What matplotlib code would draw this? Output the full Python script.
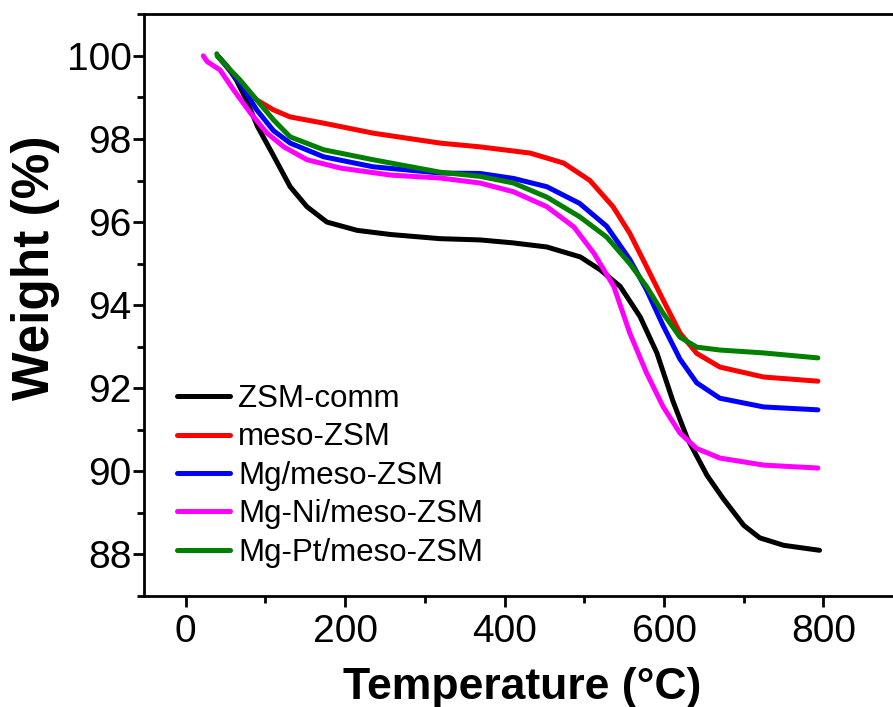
import matplotlib
matplotlib.use("Agg")
import matplotlib.pyplot as plt
from matplotlib.ticker import MultipleLocator

plt.rcParams['font.family'] = ['Liberation Sans', 'DejaVu Sans']

# ZSM-comm
t_comm = [40, 52, 64, 77, 90, 110, 131, 152, 177, 215, 257, 319, 369, 410, 453, 495, 520, 545,
          570, 591, 611, 629, 654, 674, 700, 720, 750, 795]
w_comm = [100.0, 99.75, 99.4, 98.9, 98.3, 97.6, 96.85, 96.37, 96.0, 95.8, 95.7, 95.6, 95.57, 95.5,
          95.4, 95.16, 94.85, 94.45, 93.72, 92.85, 91.7, 90.8, 89.9, 89.35, 88.7, 88.4, 88.22, 88.1]
# meso-ZSM
t_meso = [40, 52, 68, 89, 110, 131, 173, 235, 319, 369, 432, 474, 507, 536, 557, 578, 599, 620,
          641, 670, 725, 793]
w_meso = [100.0, 99.72, 99.35, 98.94, 98.7, 98.53, 98.38, 98.14, 97.9, 97.81, 97.66, 97.42, 97.0,
          96.37, 95.73, 94.93, 94.12, 93.33, 92.84, 92.51, 92.27, 92.17]
# Mg/meso-ZSM
t_mg = [40, 52, 68, 89, 110, 131, 173, 235, 319, 369, 411, 453, 494, 528, 557, 578, 599, 620,
        641, 670, 725, 793]
w_mg = [100.0, 99.73, 99.35, 98.7, 98.2, 97.9, 97.57, 97.33, 97.18, 97.17, 97.05, 96.85, 96.45,
        95.9, 95.1, 94.37, 93.5, 92.7, 92.13, 91.76, 91.55, 91.48]
# Mg-Ni/meso-ZSM
t_ni = [22, 27, 43, 60, 81, 102, 123, 152, 194, 257, 319, 369, 411, 453, 487, 512, 537, 557, 578,
        599, 620, 641, 670, 725, 793]
w_ni = [100.0, 99.86, 99.66, 99.18, 98.63, 98.14, 97.81, 97.5, 97.3, 97.13, 97.06, 96.94, 96.73,
        96.37, 95.88, 95.25, 94.45, 93.33, 92.37, 91.55, 90.92, 90.55, 90.32, 90.15, 90.08]
# Mg-Pt/meso-ZSM
t_pt = [39, 39.5, 52, 68, 89, 110, 131, 173, 235, 319, 369, 411, 453, 494, 528, 557, 578, 599,
        620, 641, 670, 725, 793]
w_pt = [100.05, 100.0, 99.74, 99.42, 98.94, 98.46, 98.05, 97.74, 97.5, 97.2, 97.1, 96.94, 96.6,
        96.13, 95.64, 95.0, 94.45, 93.8, 93.23, 92.99, 92.92, 92.85, 92.73]

labels = ["ZSM-comm", "meso-ZSM", "Mg/meso-ZSM", "Mg-Ni/meso-ZSM", "Mg-Pt/meso-ZSM"]
colors = ["#000000", "#ff0000", "#0000ff", "#ff00ff", "#007f00"]
series = [(t_comm, w_comm), (t_meso, w_meso), (t_mg, w_mg), (t_ni, w_ni), (t_pt, w_pt)]

fig = plt.figure(figsize=(8.93, 7.07), dpi=100)
ax = fig.add_axes([144.3 / 893, (707 - 596) / 707, (900 - 144.3) / 893, (596 - 14.3) / 707])

for (t, w), lab, c in zip(series, labels, colors):
    ax.plot(t, w, color=c, lw=3.6, label=lab, solid_capstyle='round', solid_joinstyle='round')

ax.set_xlim(-52, 896)
ax.set_ylim(87.0, 101.0)
ax.xaxis.set_major_locator(MultipleLocator(200))
ax.xaxis.set_minor_locator(MultipleLocator(100))
ax.yaxis.set_major_locator(MultipleLocator(2))
ax.yaxis.set_minor_locator(MultipleLocator(1))
ax.tick_params(which='major', direction='out', length=8, width=2, labelsize=28)
ax.tick_params(which='minor', direction='out', length=5, width=2)
ax.tick_params(axis='x', which='major', pad=5)
ax.tick_params(axis='y', which='major', pad=1)
for s in ax.spines.values():
    s.set_linewidth(2)
ax.spines['right'].set_visible(False)

ax.set_xlabel("Temperature (°C)", fontsize=32, fontweight='bold', labelpad=12)
fig.text(36 / 893, 1 - 268 / 707, "Weight (%)", fontsize=37, fontweight='bold',
         rotation=90, ha='center', va='center')

leg = ax.legend(loc='lower left', bbox_to_anchor=(0.027, 0.027), frameon=False, fontsize=22.5,
                handlelength=1.7, handletextpad=0.25, labelspacing=0.27, borderaxespad=0)

fig.savefig("out.png", dpi=100)
